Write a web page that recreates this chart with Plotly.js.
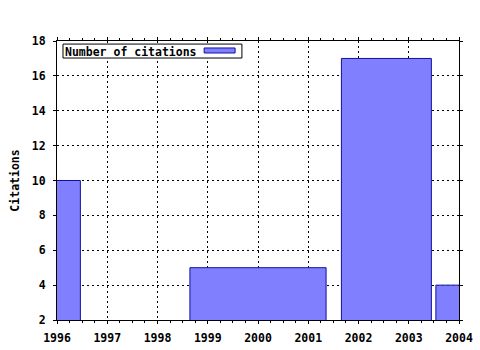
<!DOCTYPE html>
<html>
<head>
<meta charset="utf-8">
<script src="https://cdn.plot.ly/plotly-3.0.1.min.js"></script>
<style>html,body{margin:0;padding:0;background:#fff;}#chart{width:480px;height:350px;}</style>
</head>
<body>
<div id="chart"></div>
<script>
// Data
var barCenters = [1996, 2000, 2002.555, 2004];
var barWidths = [0.93, 2.71, 1.79, 0.92];
var citations = [10, 5, 17, 4];
var seriesName = "Number of citations";
var yearTicks = [1996, 1997, 1998, 1999, 2000, 2001, 2002, 2003, 2004];
var yTicks = [2, 4, 6, 8, 10, 12, 14, 16, 18];

var FONT = {family: "DejaVu Sans Mono", size: 11.5, color: "#000"};
var fillColor = "#8080ff";
var edgeColor = "#1010a0";

var trace = {
  type: "bar",
  name: seriesName,
  x: barCenters,
  y: citations,
  width: barWidths,
  marker: {color: fillColor, line: {color: edgeColor, width: 1}},
  hoverinfo: "x+y",
  showlegend: false
};

var axisCommon = {
  showline: true, linecolor: "#000", linewidth: 1,
  mirror: "ticks", ticks: "outside", ticklen: 3, tickcolor: "#000", tickwidth: 1,
  showgrid: true, gridcolor: "#000", gridwidth: 1, griddash: "2px,3px",
  zeroline: false, tickfont: FONT
};

var layout = {
  width: 480, height: 350,
  margin: {l: 57, r: 21, t: 41, b: 30, pad: 0},
  paper_bgcolor: "#fff", plot_bgcolor: "#fff",
  font: FONT,
  bargap: 0,
  xaxis: Object.assign({}, axisCommon, {
    range: [1996, 2004], tickmode: "array", tickvals: yearTicks,
    ticktext: yearTicks.map(function(v){return "<b>" + v + "</b>";}),
    ticklabelstandoff: 4,
    minor: {dtick: 0.25, tick0: 1996, ticks: "outside", ticklen: 2, tickcolor: "#000", showgrid: false}
  }),
  yaxis: Object.assign({}, axisCommon, {
    range: [2, 18], tickmode: "array", tickvals: yTicks,
    ticktext: yTicks.map(function(v){return "<b>" + v + "</b>";}),
    ticklabelstandoff: 5,
    title: {text: "<b>Citations</b>", font: FONT, standoff: 9}
  }),
  shapes: [
    {type: "rect", xref: "paper", yref: "paper", x0: 0.0149, x1: 0.460, y0: 0.939, y1: 0.989,
     line: {color: "#000", width: 1}, fillcolor: "#fff", layer: "above"},
    {type: "rect", xref: "paper", yref: "paper", x0: 0.366, x1: 0.443, y0: 0.957, y1: 0.975,
     line: {color: edgeColor, width: 1}, fillcolor: fillColor, layer: "above"}
  ],
  annotations: [
    {xref: "paper", yref: "paper", x: 0.016, y: 0.962, xanchor: "left", yanchor: "middle",
     text: "<b>" + seriesName + "</b>", showarrow: false, font: FONT}
  ]
};

Plotly.newPlot("chart", [trace], layout, {displayModeBar: false, staticPlot: true});
</script>
</body>
</html>
